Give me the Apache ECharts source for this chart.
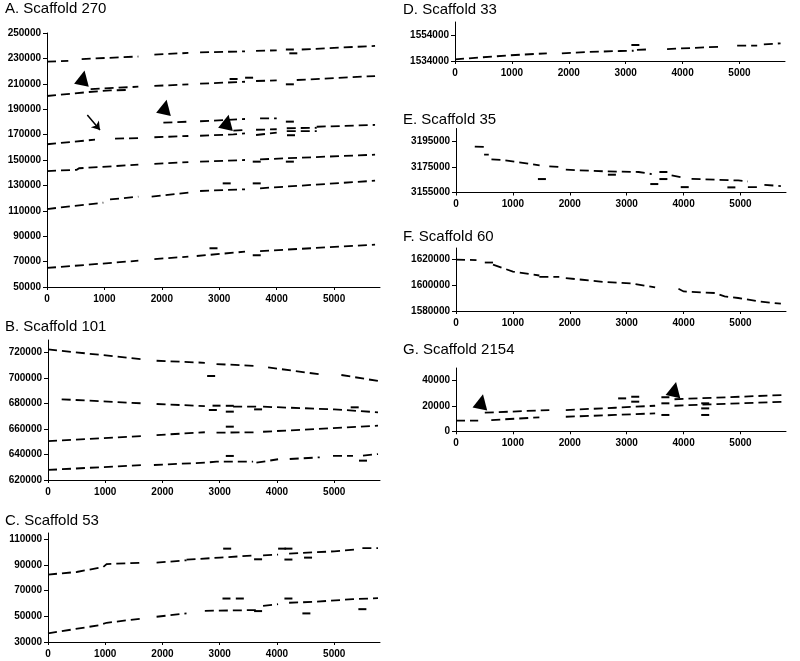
<!DOCTYPE html>
<html><head><meta charset="utf-8">
<script src="https://cdn.jsdelivr.net/npm/echarts@6/dist/echarts.min.js"></script>
<style>html,body{margin:0;padding:0;background:#fff}#c{width:800px;height:661px}</style>
</head><body><div id="c"></div>
<script>
// ---------- shared ----------
const xTicks = [0, 1000, 2000, 3000, 4000, 5000];
const xMax = 5800;
const panelTitles = ['A. Scaffold 270', 'B. Scaffold 101', 'C. Scaffold 53', 'D. Scaffold 33', 'E. Scaffold 35', 'F. Scaffold 60', 'G. Scaffold 2154'];

// ---------- A. Scaffold 270 ----------
const aYTicks = [50000, 70000, 90000, 110000, 130000, 150000, 170000, 190000, 210000, 230000, 250000];
const aRuns = [
  [[0,227500],[371,228000]], [[604,229500],[1591,231500]], [[1870,233000],[2462,234300]],
  [[2666,234800],[3449,235500]], [[3641,236000],[4001,236300]], [[4437,237000],[5000,238300],[5714,239800]],
  [[0,200400],[720,203500],[1100,204800],[1446,205200]], [[760,205800],[1591,207700]],
  [[1870,208300],[2462,209600]], [[2666,210100],[3449,211600]], [[3641,212200],[4001,212700]],
  [[4350,213000],[5000,214500],[5714,216100]],
  [[0,162400],[836,166000]], [[1185,166800],[1591,167300]], [[1870,167900],[2462,168900]],
  [[2666,169100],[3246,170200],[3449,171000]], [[3246,173200],[3449,173600]],
  [[3641,169700],[4001,171500]], [[3641,173800],[4001,174200]],
  [[4176,175000],[4698,175400]], [[4176,172800],[4698,172800]], [[4698,176200],[5714,177600]],
  [[2027,179400],[2462,180200]], [[2666,180500],[3449,182300]], [[3711,182800],[4001,182800]],
  [[0,141300],[517,142300],[560,143500],[1591,146300]], [[1870,146900],[2462,148400]],
  [[2666,148700],[3449,150000]], [[3711,150500],[5714,154200]],
  [[0,111400],[981,116400]], [[1098,119000],[1591,121100]], [[1823,121100],[2462,124300]],
  [[2666,125600],[3449,126900]], [[3711,127700],[5714,133700]],
  [[0,65000],[1591,70700]], [[1870,72000],[2462,73900]], [[2608,74400],[3449,77800]], [[3711,78300],[5714,83300]]
];
const aDots = [[4230,237000],[4290,234000],[3250,213800],[3520,214800],[4230,209600],[4250,169500],[4230,180200],
  [3653,148700],[4230,148700],[3130,131600],[3653,131600],[2900,80500],[3653,75000]];
const aTriangles = [[627,214600],[2056,191700],[3136,179900]];
const aArrow = [[702,185400],[923,173600]];

// ---------- B. Scaffold 101 ----------
const bYTicks = [620000, 640000, 660000, 680000, 700000, 720000];
const bRuns = [
  [[0,722600],[1664,714800]], [[1897,713700],[2740,712100]], [[2944,711100],[3641,709600]],
  [[3845,708500],[4747,703000]], [[5125,702500],[5765,697800]],
  [[239,683400],[1664,680200]], [[1897,679700],[2740,678100]], [[3234,677600],[3641,677600]],
  [[3757,677600],[5000,675500],[5765,673200]],
  [[0,650600],[1664,654600]], [[1897,655300],[2740,657500]], [[2944,657200],[3641,657500]], [[3757,657900],[5765,662700]],
  [[0,627900],[1664,631800]], [[1850,631800],[2740,633600],[2944,634400],[3583,634400]],
  [[3641,633600],[4019,636300]], [[4223,636500],[4747,637800]], [[4979,638900],[5328,638900]], [[5503,639100],[5765,640400]]
];
const bDots = [[2850,701700],[2880,675000],[2944,678400],[3176,673700],[3176,678300],[3670,675500],[5358,677100],
  [3176,661900],[3176,638900],[5503,635200]];

// ---------- C. Scaffold 53 ----------
const cYTicks = [30000, 50000, 70000, 90000, 110000];
const cRuns = [
  [[0,82600],[501,84600],[965,88500],[1024,90800],[1664,91900]], [[1897,91900],[2420,93700]],
  [[2420,94200],[3002,95800],[3641,97600]], [[3757,97600],[4019,98100]],
  [[4212,98900],[5000,100700],[5387,102200]], [[5492,103200],[5765,103200]],
  [[0,36700],[907,43200],[1024,45000],[1664,48400]], [[1897,49700],[2420,52300]], [[2740,54300],[3641,54900]],
  [[3757,58200],[4019,59500]], [[4212,60600],[4630,61300],[5328,63400],[5765,64200]]
];
const cDots = [[3130,102800],[3670,94500],[4090,102800],[4200,102800],[4200,94300],[4543,95800],
  [3118,63900],[3351,63900],[3670,54100],[4200,63900],[4514,52300],[5492,55600]];

// ---------- D. Scaffold 33 ----------
const dYTicks = [1534000, 1554000];
const dRuns = [
  [[0,1535300],[968,1538400],[1614,1539900]], [[1878,1539900],[2318,1540900],[2905,1541700],[3140,1541900]],
  [[3198,1542500],[3433,1543000]], [[3727,1543200],[4665,1545000]], [[4959,1545800],[5311,1545800]],
  [[5428,1546800],[5722,1547600]]
];
const dDots = [[3170,1546300]];

// ---------- E. Scaffold 35 ----------
const eYTicks = [3155000, 3175000, 3195000];
const eRuns = [
  [[330,3190800],[506,3190600],[560,3189500]], [[494,3184600],[576,3184600]],
  [[623,3180900],[800,3180500],[1470,3176200]], [[1640,3175400],[1815,3175000]],
  [[1930,3172800],[2630,3171500],[3210,3171000],[3440,3169400]], [[3790,3168300],[3970,3166800]],
  [[4140,3165700],[4960,3164400],[5130,3163600]], [[5130,3159200],[5310,3159200]], [[5420,3161000],[5710,3160000]]
];
const eDots = [[1510,3165500],[2740,3168900],[3485,3161600],[3645,3171000],[3645,3165500],[4020,3159200],[4840,3159000]];

// ---------- F. Scaffold 60 ----------
const fYTicks = [1580000, 1600000, 1620000];
const fRuns = [
  [[0,1620000],[360,1619600]], [[506,1617700],[650,1617700]],
  [[650,1616000],[1000,1610700],[1465,1607600]], [[1465,1606600],[1815,1606600]],
  [[1930,1605600],[2220,1604300],[2630,1602500],[3095,1601400],[3500,1598300]],
  [[3910,1597300],[4000,1595200],[4550,1594000],[4720,1591300],[4960,1590100],[5310,1587500],[5710,1585700]]
];
const fDots = [];

// ---------- G. Scaffold 2154 ----------
const gYTicks = [0, 20000, 40000];
const gRuns = [
  [[0,8400],[390,8400]], [[506,14700],[1640,16800]], [[620,8900],[1465,11000]],
  [[1930,16800],[2800,18600],[3500,20200]], [[1930,11500],[2800,12900],[3500,14200]],
  [[3840,25300],[5780,28700]], [[3840,20200],[5780,23400]]
];
const gDots = [[2920,26000],[3150,27300],[3150,23400],[3680,26900],[3680,22100],[3680,12900],[4380,22100],[4380,18100],[4380,12900]];
const gTriangles = [[447,23400],[3840,33200]];

// ---------- layout ----------
const panels = [
  {runs:aRuns, dots:aDots, tri:aTriangles, arrow:aArrow, yt:aYTicks, yMin:50000, yMax:250000, grid:{left:47, top:33, width:333, height:254}, tl:[5,1]},
  {runs:bRuns, dots:bDots, yt:bYTicks, yMin:620000, yMax:730000, grid:{left:48, top:340, width:332, height:140}, tl:[5,319]},
  {runs:cRuns, dots:cDots, yt:cYTicks, yMin:30000, yMax:115000, grid:{left:48, top:533, width:332, height:109}, tl:[5,513]},
  {runs:dRuns, dots:dDots, yt:dYTicks, yMin:1534000, yMax:1564000, grid:{left:455, top:22, width:330, height:39}, tl:[403,2]},
  {runs:eRuns, dots:eDots, yt:eYTicks, yMin:3155000, yMax:3205000, grid:{left:456, top:128.5, width:330, height:64}, tl:[403,112]},
  {runs:fRuns, dots:fDots, yt:fYTicks, yMin:1580000, yMax:1629000, grid:{left:456, top:248, width:330, height:63}, tl:[403,229]},
  {runs:gRuns, dots:gDots, tri:gTriangles, yt:gYTicks, yMin:0, yMax:50000, grid:{left:456, top:368, width:330, height:63.3}, tl:[403,342]}
];

const FONT = '"Liberation Sans", Arial, sans-serif';
const INK = '#000';
const plain = v => String(v);
const option = {animation:false, backgroundColor:'#fff', title:[], grid:[], xAxis:[], yAxis:[], series:[]};
panels.forEach((p, i) => {
  option.title.push({text: panelTitles[i], left: p.tl[0], top: p.tl[1], padding: 0,
    textStyle:{fontFamily:FONT, fontSize:15, fontWeight:'normal', color:'#000'}});
  option.grid.push(Object.assign({containLabel:false}, p.grid));
  option.xAxis.push({type:'value', gridIndex:i, min:0, max:xMax,
    axisLine:{show:true, lineStyle:{color:'#000', width:1}},
    axisTick:{show:true, length:3, customValues:xTicks, lineStyle:{color:'#000'}},
    axisLabel:{customValues:xTicks, formatter:plain, margin:7, fontFamily:FONT, fontSize:10, fontWeight:'bold', color:'#000'},
    splitLine:{show:false}});
  option.yAxis.push({type:'value', gridIndex:i, min:p.yMin, max:p.yMax,
    axisLine:{show:true, lineStyle:{color:'#000', width:1}},
    axisTick:{show:true, length:4, customValues:p.yt, lineStyle:{color:'#000'}},
    axisLabel:{customValues:p.yt, formatter:plain, margin:6, fontFamily:FONT, fontSize:10, fontWeight:'bold', color:'#000'},
    splitLine:{show:false}});
  option.series.push({type:'lines', coordinateSystem:'cartesian2d', xAxisIndex:i, yAxisIndex:i,
    polyline:true, silent:true,
    lineStyle:{color:INK, width:1.8, type:[9,5], opacity:1},
    data: p.runs.map(r => ({coords: r}))});
  if (p.dots.length) option.series.push({type:'scatter', xAxisIndex:i, yAxisIndex:i, symbol:'rect',
    symbolSize:[8,2], itemStyle:{color:INK, opacity:1}, data:p.dots, silent:true});
  if (p.tri) option.series.push({type:'scatter', xAxisIndex:i, yAxisIndex:i, symbol:'triangle',
    symbolSize:[15,15], symbolRotate:-12, itemStyle:{color:'#000', opacity:1}, data:p.tri, silent:true, z:5});
  if (p.arrow) option.series.push({type:'lines', coordinateSystem:'cartesian2d', xAxisIndex:i, yAxisIndex:i,
    symbol:['none','arrow'], symbolSize:8, lineStyle:{color:'#000', width:1.5, type:'solid', opacity:1},
    data:[{coords:p.arrow}], silent:true, z:5});
});
echarts.init(document.getElementById('c'), null, {renderer:'canvas'}).setOption(option);
</script></body></html>
